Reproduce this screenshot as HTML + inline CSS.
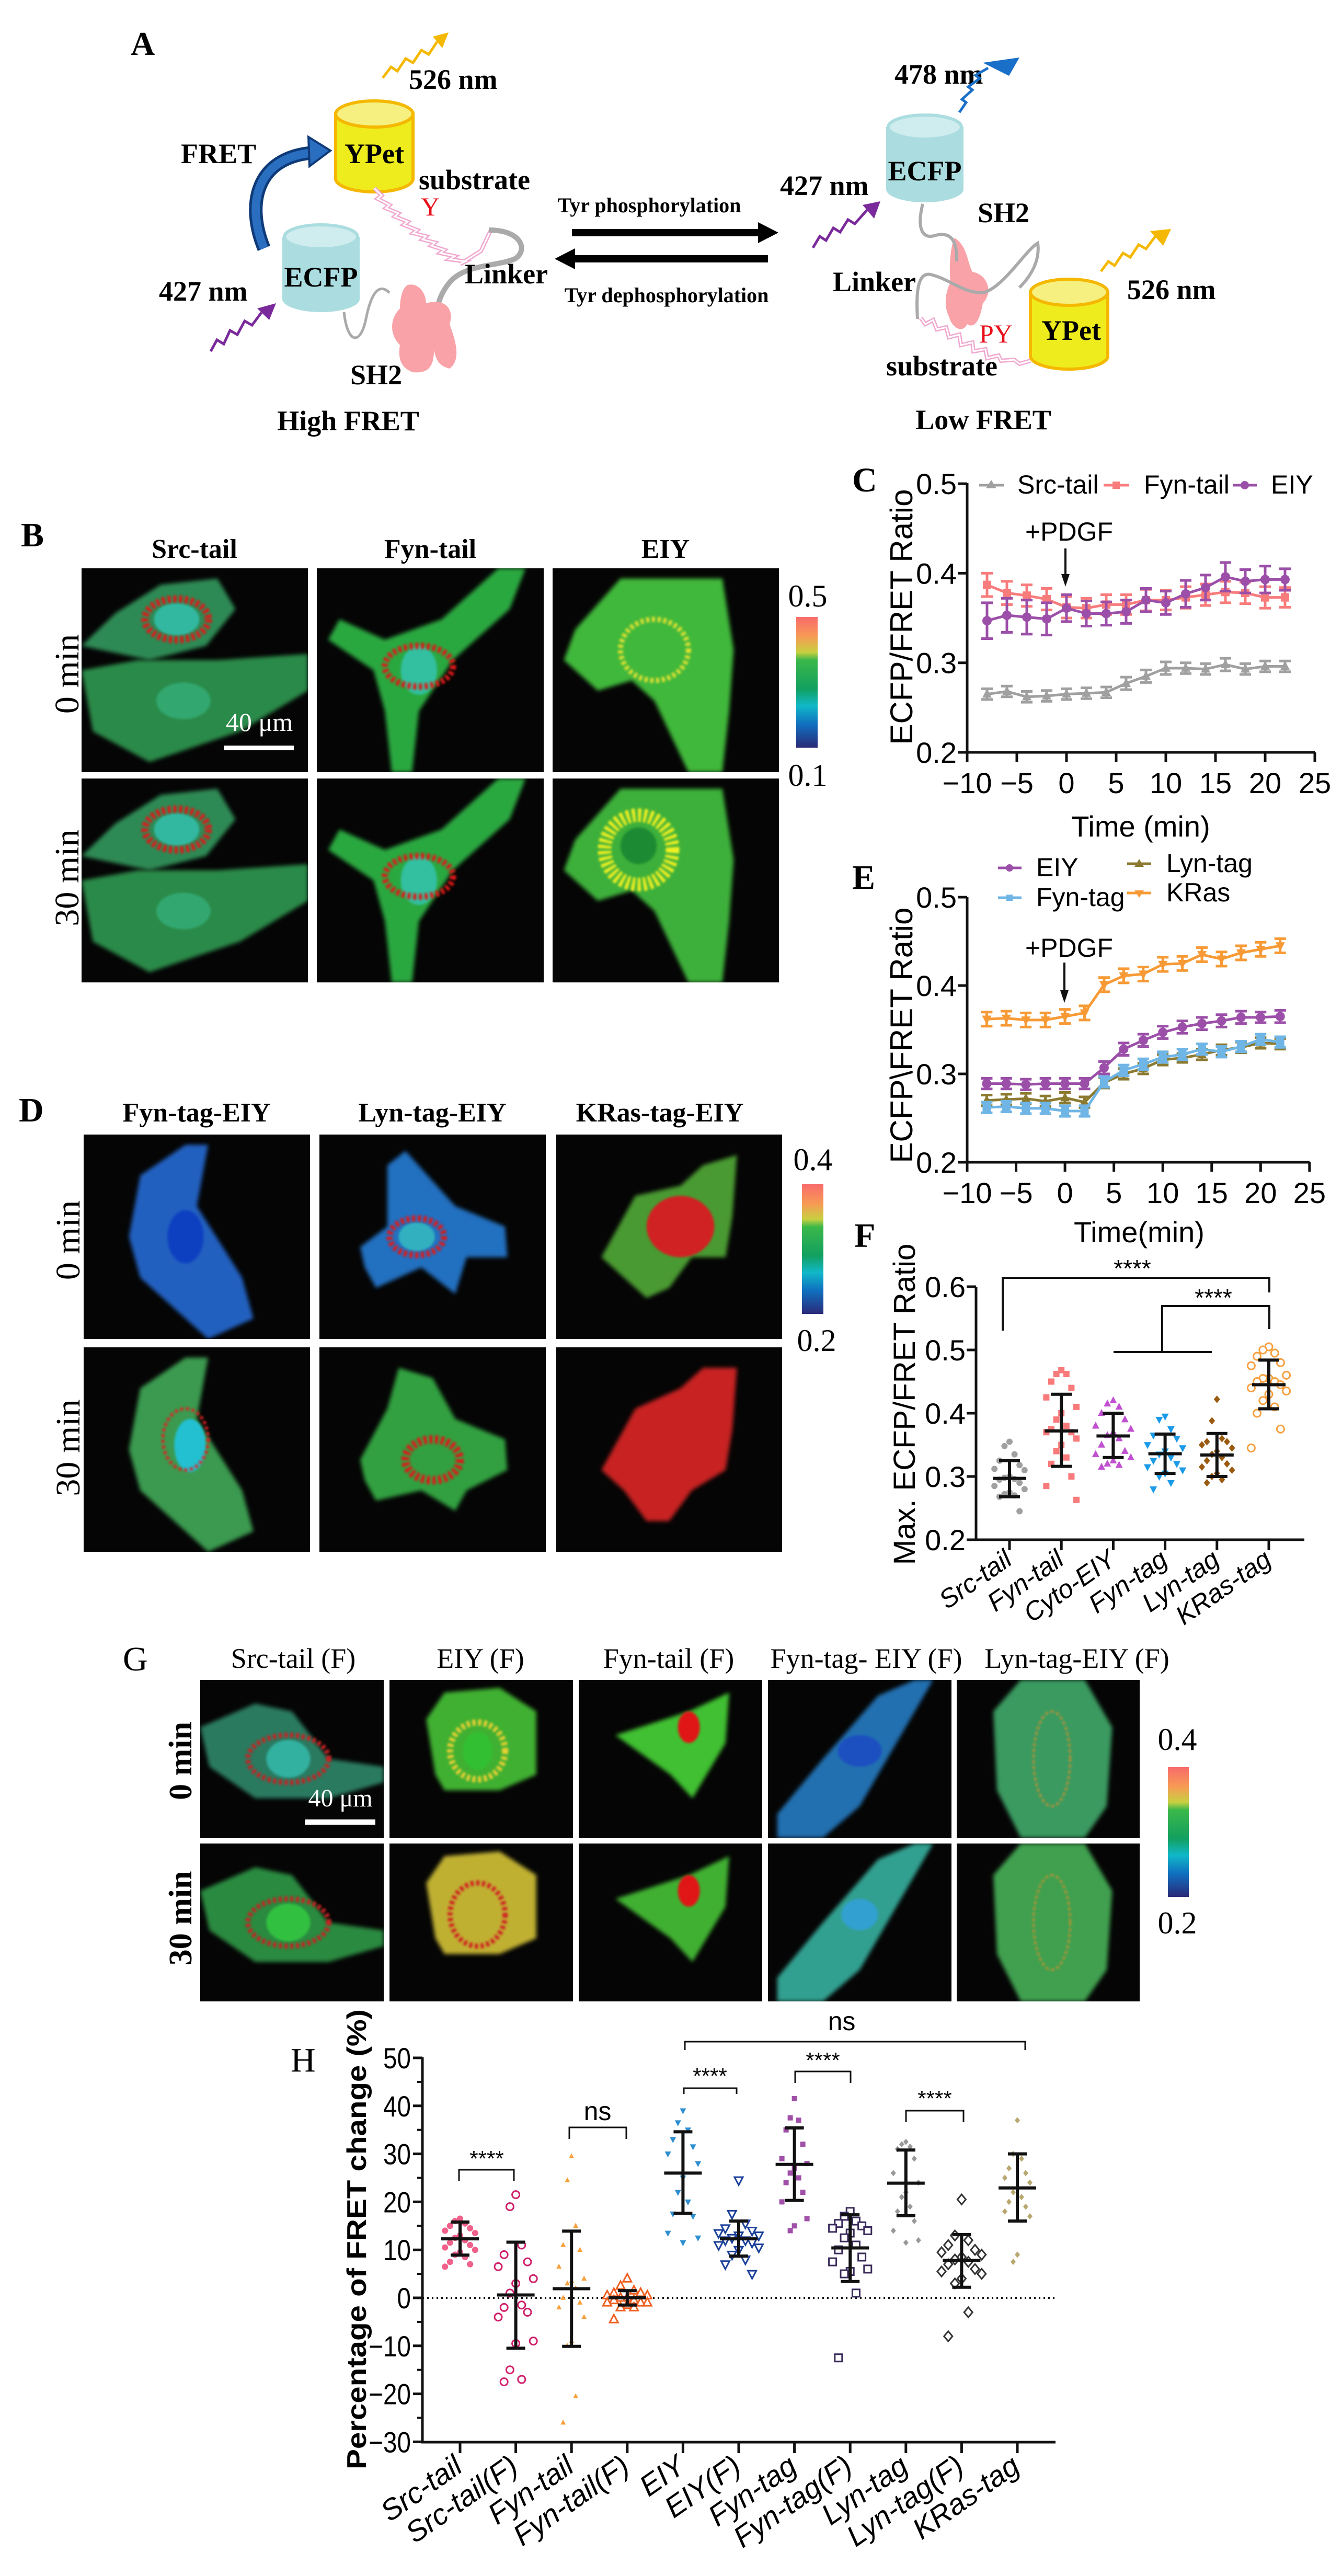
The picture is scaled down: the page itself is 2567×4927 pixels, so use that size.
<!DOCTYPE html>
<html><head><meta charset="utf-8"><style>
html,body{margin:0;padding:0;background:#fff}
svg{display:block}
.ser{font-family:"Liberation Serif",serif}
.san{font-family:"Liberation Sans",sans-serif}
</style></head><body>
<svg id="fig" xmlns="http://www.w3.org/2000/svg" width="2567" height="4927" viewBox="0 0 2567 4927">
<defs>
<filter id="blur" x="-20%" y="-20%" width="140%" height="140%"><feGaussianBlur stdDeviation="4"/></filter>
<filter id="blur2" x="-20%" y="-20%" width="140%" height="140%"><feGaussianBlur stdDeviation="2"/></filter>
<linearGradient id="cbar" x1="0" y1="0" x2="0" y2="1">
<stop offset="0" stop-color="#f86b6b"/><stop offset="0.15" stop-color="#f79a55"/><stop offset="0.27" stop-color="#c8d040"/><stop offset="0.33" stop-color="#3cb84a"/><stop offset="0.55" stop-color="#12a060"/><stop offset="0.68" stop-color="#10b8c8"/><stop offset="0.82" stop-color="#1070c0"/><stop offset="1" stop-color="#2a2a78"/>
</linearGradient>
</defs>
<rect width="2567" height="4927" fill="#fff"/>

<g id="panelA" class="ser" font-weight="bold" font-size="54">
<text x="250" y="105" font-size="64">A</text>
<g>
<rect x="642" y="218" width="148" height="124" fill="#eeec1c" stroke="#f5b800" stroke-width="6"/>
<ellipse cx="716" cy="342" rx="74" ry="25" fill="#eeec1c" stroke="#f5b800" stroke-width="6"/>
<rect x="645" y="218" width="142" height="124" fill="#eeec1c"/>
<ellipse cx="716" cy="218" rx="74" ry="25" fill="#f5f080" stroke="#f5b800" stroke-width="6"/>
<text x="716" y="312" text-anchor="middle" font-size="54">YPet</text>
</g>
<g>
<rect x="540" y="453" width="148" height="119" fill="#abdde0"/>
<ellipse cx="614" cy="572" rx="74" ry="25" fill="#abdde0"/>
<ellipse cx="614" cy="453" rx="70" ry="23" fill="#cfecee" stroke="#abdde0" stroke-width="6"/>
<text x="614" y="548" text-anchor="middle" font-size="54">ECFP</text>
</g>
<path d="M505,475 C470,390 490,300 600,292" fill="none" stroke="#0e3a78" stroke-width="26"/>
<path d="M505,475 C470,390 490,300 600,292" fill="none" stroke="#2a6ec0" stroke-width="16"/>
<polygon points="590,262 632,288 592,318" fill="#2a6ec0" stroke="#0e3a78" stroke-width="4"/>
<text x="346" y="312">FRET</text>
<text x="782" y="170">526 nm</text>
<polyline points="732,149 748,128 760,136 776,112 790,120 806,96 820,104 836,80" fill="none" stroke="#f5b800" stroke-width="5"/>
<polygon points="828,70 858,62 846,92" fill="#f5b800"/>
<text x="304" y="575">427 nm</text>
<polyline points="403,672 415,650 428,658 440,632 454,640 468,614 482,622 500,598" fill="none" stroke="#7a2a9a" stroke-width="5"/>
<polygon points="492,590 528,580 515,612" fill="#7a2a9a"/>
<polyline points="716,360 730,374 722,380 745,392 738,398 762,408 755,414 780,424 772,430 798,440 790,446 815,452 808,458 832,464 825,470 850,478 842,484 870,490 860,496 890,500 880,505 920,480 938,442" fill="none" stroke="#f0a8d0" stroke-width="8"/>
<polyline points="716,360 730,374 722,380 745,392 738,398 762,408 755,414 780,424 772,430 798,440 790,446 815,452 808,458 832,464 825,470 850,478 842,484 870,490 860,496 890,500 880,505 920,480 938,442" fill="none" stroke="#fff" stroke-width="3"/>
<text x="823" y="412" fill="#e8101a" text-anchor="middle" font-weight="normal" font-size="50">Y</text>
<text x="801" y="362" font-size="54">substrate</text>
<path d="M935,440 C1000,440 1010,480 985,495 C950,510 890,505 860,540 C840,565 840,580 835,590" fill="none" stroke="#aaa" stroke-width="10"/>
<path d="M658,597 C665,660 690,660 700,610 C710,560 725,540 745,560" fill="none" stroke="#aaa" stroke-width="5"/>
<path d="M780,545 C800,540 815,560 815,580 C850,570 870,590 860,620 C875,660 880,690 860,705 C840,700 835,690 830,670 C830,700 820,715 790,712 C770,705 760,690 765,660 C745,640 745,610 765,590 C765,570 770,550 780,545 Z" fill="#f9a3a8"/>
<text x="670" y="735">SH2</text>
<text x="889" y="542">Linker</text>
<text x="666" y="823" text-anchor="middle">High FRET</text>
<line x1="1094" y1="445" x2="1450" y2="445" stroke="#000" stroke-width="14"/>
<polygon points="1450,425 1489,445 1450,465" fill="#000"/>
<line x1="1100" y1="495" x2="1469" y2="495" stroke="#000" stroke-width="14"/>
<polygon points="1100,475 1061,495 1100,515" fill="#000"/>
<text x="1242" y="406" text-anchor="middle" font-size="40">Tyr phosphorylation</text>
<text x="1275" y="578" text-anchor="middle" font-size="40">Tyr dephosphorylation</text>
<text x="1711" y="160">478 nm</text>
<polyline points="1835,215 1848,196 1840,190 1860,172 1852,166 1874,150 1866,144 1890,130" fill="none" stroke="#1a70c8" stroke-width="5"/>
<polygon points="1880,120 1950,110 1930,145" fill="#1a70c8"/>
<g>
<rect x="1695" y="243" width="148" height="119" fill="#abdde0"/>
<ellipse cx="1769" cy="362" rx="74" ry="25" fill="#abdde0"/>
<ellipse cx="1769" cy="243" rx="70" ry="23" fill="#cfecee" stroke="#abdde0" stroke-width="6"/>
<text x="1769" y="345" text-anchor="middle" font-size="54">ECFP</text>
</g>
<text x="1492" y="373">427 nm</text>
<polyline points="1555,474 1568,452 1580,460 1594,436 1607,444 1622,420 1635,428 1660,400" fill="none" stroke="#7a2a9a" stroke-width="5"/>
<polygon points="1650,392 1684,385 1672,418" fill="#7a2a9a"/>
<text x="1870" y="425">SH2</text>
<path d="M1826,455 C1850,470 1850,500 1860,520 C1890,525 1900,560 1880,580 C1875,610 1865,630 1850,620 C1840,640 1820,625 1815,605 C1805,585 1808,560 1818,540 C1815,510 1818,470 1826,455 Z" fill="#f9a3a8"/>
<path d="M1765,390 C1755,430 1760,460 1790,450 C1830,440 1830,480 1830,500" fill="none" stroke="#aaa" stroke-width="6"/>
<path d="M1755,610 C1752,560 1755,520 1780,525 C1820,535 1840,560 1880,560 C1920,550 1960,480 1985,465 C1990,500 1970,530 1950,550" fill="none" stroke="#aaa" stroke-width="6"/>
<text x="1593" y="557">Linker</text>
<g>
<rect x="1971" y="559" width="148" height="122" fill="#eeec1c" stroke="#f5b800" stroke-width="6"/>
<ellipse cx="2045" cy="681" rx="74" ry="25" fill="#eeec1c" stroke="#f5b800" stroke-width="6"/>
<rect x="1974" y="559" width="142" height="122" fill="#eeec1c"/>
<ellipse cx="2045" cy="559" rx="74" ry="25" fill="#f5f080" stroke="#f5b800" stroke-width="6"/>
<text x="2049" y="650" text-anchor="middle" font-size="54">YPet</text>
</g>
<text x="2156" y="572">526 nm</text>
<polyline points="2106,519 2120,500 2132,508 2148,484 2162,492 2178,468 2192,476 2210,452" fill="none" stroke="#f5b800" stroke-width="5"/>
<polygon points="2200,442 2240,438 2225,470" fill="#f5b800"/>
<polyline points="1761,608 1770,620 1785,612 1792,630 1810,626 1815,645 1835,640 1838,660 1860,655 1862,672 1885,668 1888,685 1910,680 1915,690 1940,688 1950,696 1971,690" fill="none" stroke="#f0a8d0" stroke-width="8"/>
<polyline points="1761,608 1770,620 1785,612 1792,630 1810,626 1815,645 1835,640 1838,660 1860,655 1862,672 1885,668 1888,685 1910,680 1915,690 1940,688 1950,696 1971,690" fill="none" stroke="#fff" stroke-width="3"/>
<text x="1905" y="655" fill="#e8101a" text-anchor="middle" font-weight="normal" font-size="50">PY</text>
<text x="1695" y="718">substrate</text>
<text x="1881" y="821" text-anchor="middle">Low FRET</text>
</g>

<g id="imgs"></g>
<g id="charts"></g>
</svg>

<script>
const timeC = [-8,-6,-4,-2,0,2,4,6,8,10,12,14,16,18,20,22];
const cSrcTail = [0.265,0.268,0.262,0.263,0.265,0.266,0.267,0.277,0.285,0.294,0.294,0.293,0.298,0.293,0.296,0.296];
const cSrcTailErr = [0.006,0.006,0.006,0.006,0.006,0.006,0.006,0.007,0.007,0.007,0.006,0.006,0.007,0.006,0.006,0.006];
const cFynTail = [0.387,0.378,0.375,0.371,0.362,0.361,0.365,0.365,0.370,0.370,0.373,0.376,0.379,0.378,0.373,0.373];
const cFynTailErr = [0.013,0.013,0.012,0.012,0.012,0.011,0.011,0.011,0.012,0.011,0.012,0.012,0.012,0.012,0.012,0.011];
const cEIY = [0.347,0.353,0.351,0.349,0.361,0.355,0.355,0.357,0.370,0.367,0.377,0.384,0.396,0.391,0.393,0.393];
const cEIYErr = [0.020,0.019,0.019,0.018,0.015,0.014,0.013,0.013,0.013,0.013,0.015,0.014,0.016,0.013,0.015,0.012];
const cTicksX = [-10,-5,0,5,10,15,20,25];
const cTicksY = [0.2,0.3,0.4,0.5];
const timeE = [-8,-6,-4,-2,0,2,4,6,8,10,12,14,16,18,20,22];
const eEIY = [0.289,0.289,0.288,0.289,0.289,0.289,0.307,0.328,0.338,0.347,0.353,0.357,0.360,0.364,0.364,0.365];
const eEIYErr = [0.006,0.006,0.006,0.006,0.006,0.006,0.007,0.007,0.007,0.007,0.007,0.007,0.007,0.007,0.006,0.007];
const eFynTag = [0.262,0.263,0.261,0.261,0.258,0.258,0.291,0.304,0.311,0.319,0.322,0.328,0.325,0.331,0.339,0.336];
const eFynTagErr = [0.006,0.006,0.006,0.006,0.006,0.006,0.006,0.006,0.006,0.006,0.006,0.006,0.006,0.006,0.006,0.006];
const eLynTag = [0.270,0.271,0.272,0.269,0.273,0.268,0.290,0.300,0.306,0.316,0.318,0.322,0.327,0.330,0.335,0.334];
const eLynTagErr = [0.006,0.006,0.006,0.006,0.006,0.006,0.006,0.006,0.006,0.006,0.005,0.006,0.006,0.006,0.006,0.006];
const eKRas = [0.362,0.363,0.361,0.361,0.365,0.369,0.401,0.411,0.413,0.424,0.425,0.435,0.430,0.437,0.441,0.445];
const eKRasErr = [0.008,0.008,0.008,0.008,0.008,0.008,0.008,0.008,0.008,0.008,0.008,0.008,0.008,0.008,0.008,0.008];
const eTicksX = [-10,-5,0,5,10,15,20,25];
const eTicksY = [0.2,0.3,0.4,0.5];
const fCategories = ['Src-tail','Fyn-tail','Cyto-EIY','Fyn-tag','Lyn-tag','KRas-tag'];
const fMean = [0.297,0.372,0.364,0.336,0.334,0.445];
const fSdHigh = [0.325,0.430,0.400,0.367,0.368,0.484];
const fSdLow = [0.268,0.316,0.330,0.305,0.300,0.407];
const fSrcTail = [0.355,0.348,0.335,0.325,0.318,0.312,0.310,0.300,0.298,0.296,0.295,0.290,0.285,0.280,0.275,0.272,0.270,0.268,0.245];
const fFynTail = [0.468,0.462,0.462,0.450,0.440,0.425,0.410,0.400,0.390,0.380,0.375,0.370,0.370,0.360,0.350,0.340,0.330,0.320,0.300,0.285,0.263];
const fCytoEIY = [0.420,0.415,0.410,0.400,0.390,0.380,0.375,0.370,0.365,0.360,0.350,0.340,0.335,0.330,0.325,0.320,0.318,0.315];
const fFynTag = [0.395,0.390,0.375,0.365,0.360,0.350,0.345,0.340,0.335,0.330,0.325,0.320,0.315,0.310,0.305,0.300,0.290,0.280];
const fLynTag = [0.422,0.388,0.360,0.355,0.355,0.350,0.345,0.340,0.335,0.330,0.325,0.320,0.315,0.310,0.305,0.300,0.295,0.290];
const fKRasTag = [0.505,0.500,0.495,0.490,0.480,0.475,0.460,0.455,0.455,0.450,0.450,0.445,0.440,0.435,0.430,0.420,0.410,0.400,0.375,0.345];
const fTicksY = [0.2,0.3,0.4,0.5,0.6];
const hCategories = ['Src-tail','Src-tail(F)','Fyn-tail','Fyn-tail(F)','EIY','EIY(F)','Fyn-tag','Fyn-tag(F)','Lyn-tag','Lyn-tag(F)','KRas-tag'];
const hMean = [12.3,0.6,1.9,0,26,12.3,27.8,10.4,23.9,7.8,22.9];
const hSdHigh = [15.8,11.6,13.9,1.5,34.6,16.0,35.4,17.3,30.8,13.2,30.0];
const hSdLow = [8.9,-10.5,-10.1,-1.5,17.6,8.7,20.3,3.4,17.1,2.2,16.0];
const hSrcTail = [16.5,16,15.5,15,14.5,14,13.5,13,12.5,12,11.5,11,10.5,10,9.5,9,8.5,7.5,7,6.5];
const hSrcTailF = [21.5,19,11,9,7.5,6.5,4,3,1,-1.5,-2,-3,-4,-9,-9.5,-15,-17,-17.5];
const hFynTail = [29.5,24.5,15,11,10,6.5,4,3.5,3,2,0,-1,-2,-4,-9,-10,-20.5,-26];
const hFynTailF = [4,2.5,1.5,1,1,0.5,0.5,0,0,-0.5,-0.5,-1,-1,-1,-1.5,-2,-2,-4.5];
const hEIY = [39,36.5,35,33,31.5,30,28,25,22,20,17.5,17,13.5,12.5,11.5];
const hEIYF = [24.5,17.5,15.5,14.5,14,13.5,13,13,12.5,12,12,11.5,11,10.5,10,9,8,7,5];
const hFynTag = [41.5,37.5,37,35,32,29,28,27,26,25,24,22,20,16.5,15,14];
const hFynTagF = [18,17,16,15.5,15,14.5,14,13.5,12.5,11,10,8.5,7.5,6,5.5,5,1,-12.5];
const hLynTag = [32.5,32,31.5,31,29,26,24,22,21,19,18,16,14,12,11.5];
const hLynTagF = [20.5,13,12,11,10,9.5,9,8.5,8,7.5,7,6,5.5,5,4,3,-3,-8];
const hKRasTag = [37,30,29,27,26,25,24,23,22,21,20,19,18,17,9,7.5];
const hTicksY = [-30,-20,-10,0,10,20,30,40,50];

const NS='http://www.w3.org/2000/svg';
const charts=document.getElementById('charts');
const imgs=document.getElementById('imgs');
function mk(tag,attrs,parent){const e=document.createElementNS(NS,tag);for(const k in attrs)e.setAttribute(k,attrs[k]);parent.appendChild(e);return e;}
function txt(x,y,s,attrs,parent){const t=mk('text',Object.assign({x:x,y:y},attrs),parent);t.textContent=s;return t;}

function marker(shape,x,y,s,color,open,parent,name){
  let e;
  const fill=open?'#fff':color, sw=open?3:0;
  if(shape==='circle'){e=mk('circle',{cx:x,cy:y,r:s,fill:fill,stroke:color,'stroke-width':sw},parent);}
  else if(shape==='square'){e=mk('rect',{x:x-s,y:y-s,width:2*s,height:2*s,fill:fill,stroke:color,'stroke-width':sw},parent);}
  else if(shape==='tri'){e=mk('polygon',{points:(x)+','+(y-s*1.15)+' '+(x+s)+','+(y+s*0.75)+' '+(x-s)+','+(y+s*0.75),fill:fill,stroke:color,'stroke-width':sw},parent);}
  else if(shape==='dtri'){e=mk('polygon',{points:(x)+','+(y+s*1.15)+' '+(x+s)+','+(y-s*0.75)+' '+(x-s)+','+(y-s*0.75),fill:fill,stroke:color,'stroke-width':sw},parent);}
  else {e=mk('polygon',{points:x+','+(y-s*1.2)+' '+(x+s)+','+y+' '+x+','+(y+s*1.2)+' '+(x-s)+','+y,fill:fill,stroke:color,'stroke-width':sw},parent);}
  
  
  return e;
}

function series(g,xs,ys,errs,color,shape,xf,yf,name){
  const pl=mk('polyline',{points:xs.map((t,i)=>xf(t)+','+yf(ys[i])).join(' '),fill:'none',stroke:color,'stroke-width':5},g);
  
  
  xs.forEach((t,i)=>{
    const x=xf(t), yt=yf(ys[i]+errs[i]), yb=yf(ys[i]-errs[i]);
    const eb=mk('path',{d:'M'+x+','+yt+' V'+yb+' M'+(x-11)+','+yt+' H'+(x+11)+' M'+(x-11)+','+yb+' H'+(x+11),stroke:color,'stroke-width':5,fill:'none'},g);
    
    
    marker(shape,x,yf(ys[i]),shape==='square'?8:9,color,false,g,name+'-point');
  });
}
function lineAxes(g,x0,x1,y0,y1,xf,yf,ticksX,ticksY,fmt){
  const ax=mk('path',{d:'M'+x0+','+y1+' V'+y0+' H'+x1,stroke:'#111','stroke-width':5,fill:'none'},g);
  
  
  ticksX.forEach(t=>{
    const tk=mk('line',{x1:xf(t),x2:xf(t),y1:y0,y2:y0+18,stroke:'#111','stroke-width':5},g);
    
    
    const lb=txt(xf(t),y0+78,(t<0?'\u2212'+(-t):''+t),{'text-anchor':'middle','font-size':56},g);
    
    
  });
  ticksY.forEach(v=>{
    const tk=mk('line',{x1:x0-18,x2:x0,y1:yf(v),y2:yf(v),stroke:'#111','stroke-width':5},g);
    
    
    const lb=txt(x0-20,yf(v)+20,fmt(v),{'text-anchor':'end','font-size':56},g);
    
    
  });
}

const xC=t=>1850+(t+10)*19, yC=v=>1439-(v-0.2)*1713;
const gC=mk('g',{class:'san'},charts);


lineAxes(gC,1850,2515,1439,924,xC,yC,cTicksX,cTicksY,v=>v.toFixed(1));
series(gC,timeC,cSrcTail,cSrcTailErr,'#a0a0a0','tri',xC,yC,'src-tail');
series(gC,timeC,cFynTail,cFynTailErr,'#f87c7c','square',xC,yC,'fyn-tail');
series(gC,timeC,cEIY,cEIYErr,'#9b4fa8','circle',xC,yC,'eiy');

const xE=t=>1850+(t+10)*18.71, yE=v=>2223-(v-0.2)*1690;
const gE=mk('g',{class:'san'},charts);


lineAxes(gE,1850,2505,2223,1716,xE,yE,eTicksX,eTicksY,v=>v.toFixed(1));
series(gE,timeE,eKRas,eKRasErr,'#f79a35','dtri',xE,yE,'kras');
series(gE,timeE,eEIY,eEIYErr,'#9b4fa8','circle',xE,yE,'eiy');
series(gE,timeE,eLynTag,eLynTagErr,'#8b7a30','tri',xE,yE,'lyn-tag');
series(gE,timeE,eFynTag,eFynTagErr,'#6fb5e5','square',xE,yE,'fyn-tag');

function scatter(g,i,vals,shape,color,open,xf,yf,mean,hi,lo,size,name,meanW,capW){
  vals.forEach((v,k)=>{
    const off=[0,-1,1,-2,2,-3,3][k%7]*(size*1.6);
    marker(shape,xf(i)+off,yf(v),size,color,open,g,name+'-point');
  });
  const x=xf(i);
  const st=mk('path',{d:'M'+(x-meanW)+','+yf(mean)+' H'+(x+meanW)+' M'+x+','+yf(hi)+' V'+yf(lo)+' M'+(x-capW)+','+yf(hi)+' H'+(x+capW)+' M'+(x-capW)+','+yf(lo)+' H'+(x+capW),stroke:'#111','stroke-width':6,fill:'none'},g);
  
  
}

const xF=i=>1931+i*99.2, yF=v=>2945-(v-0.2)*1210;
const gF=mk('g',{class:'san'},charts);


const fAx=mk('path',{d:'M1867,2461 V2945 H2495',stroke:'#111','stroke-width':5,fill:'none'},gF);


fTicksY.forEach(v=>{
  const tk=mk('line',{x1:1849,x2:1867,y1:yF(v),y2:yF(v),stroke:'#111','stroke-width':5},gF);
  
  
  const lb=txt(1847,yF(v)+20,v.toFixed(1),{'text-anchor':'end','font-size':56},gF);
  
  
});
fCategories.forEach((c,i)=>{
  const tk=mk('line',{x1:xF(i),x2:xF(i),y1:2945,y2:2965,stroke:'#111','stroke-width':5},gF);
  
  
  const lb=txt(xF(i)+8,2990,c,{'text-anchor':'end','font-size':50,'font-style':'italic',transform:'rotate(-35 '+(xF(i)+8)+' 2990)'},gF);
  
  
});
scatter(gF,0,fSrcTail,'circle','#a0a0a0',false,xF,yF,fMean[0],fSdHigh[0],fSdLow[0],6,'src-tail',32,20);
scatter(gF,1,fFynTail,'square','#f87a7a',false,xF,yF,fMean[1],fSdHigh[1],fSdLow[1],6,'fyn-tail',32,20);
scatter(gF,2,fCytoEIY,'tri','#c050d0',false,xF,yF,fMean[2],fSdHigh[2],fSdLow[2],7,'cyto-eiy',32,20);
scatter(gF,3,fFynTag,'dtri','#1a9ae8',false,xF,yF,fMean[3],fSdHigh[3],fSdLow[3],7,'fyn-tag',32,20);
scatter(gF,4,fLynTag,'diamond','#9a5a10',false,xF,yF,fMean[4],fSdHigh[4],fSdLow[4],6,'lyn-tag',32,20);
scatter(gF,5,fKRasTag,'circle','#f7a040',true,xF,yF,fMean[5],fSdHigh[5],fSdLow[5],7,'kras-tag',32,20);

const xH=i=>880+i*106.6, yH=v=>4395-v*9.18;
const gH=mk('g',{class:'san'},charts);


const hAx=mk('path',{d:'M808,3935 V4671 H2019',stroke:'#111','stroke-width':5,fill:'none'},gH);


const zl=mk('line',{x1:808,x2:2019,y1:yH(0),y2:yH(0),stroke:'#111','stroke-width':4,'stroke-dasharray':'3 6'},gH);


hTicksY.forEach(v=>{
  const tk=mk('line',{x1:790,x2:808,y1:yH(v),y2:yH(v),stroke:'#111','stroke-width':5},gH);
  
  
  if(v<50){
    const mt=mk('line',{x1:798,x2:808,y1:yH(v+5),y2:yH(v+5),stroke:'#111','stroke-width':4},gH);
    
    
  }
  const lb=txt(786,yH(v)+20,(v<0?'\u2212'+(-v):''+v),{'text-anchor':'end','font-size':56,transform:'translate('+(786*0.15)+',0) scale(0.85,1)'},gH);
  
  
});
hCategories.forEach((c,i)=>{
  const tk=mk('line',{x1:xH(i),x2:xH(i),y1:4671,y2:4692,stroke:'#111','stroke-width':5},gH);
  
  
  const lb=txt(xH(i)+8,4725,c,{'text-anchor':'end','font-size':56,'font-style':'italic',transform:'rotate(-35 '+(xH(i)+8)+' 4725)'},gH);
  
  
});
scatter(gH,0,hSrcTail,'circle','#f0608a',false,xH,yH,hMean[0],hSdHigh[0],hSdLow[0],6,'src-tail',36,18);
scatter(gH,1,hSrcTailF,'circle','#d0206a',true,xH,yH,hMean[1],hSdHigh[1],hSdLow[1],7,'src-tail-f',36,18);
scatter(gH,2,hFynTail,'tri','#f7a03a',false,xH,yH,hMean[2],hSdHigh[2],hSdLow[2],5,'fyn-tail',36,18);
scatter(gH,3,hFynTailF,'tri','#f06020',true,xH,yH,hMean[3],hSdHigh[3],hSdLow[3],8,'fyn-tail-f',36,18);
scatter(gH,4,hEIY,'dtri','#2e8fd0',false,xH,yH,hMean[4],hSdHigh[4],hSdLow[4],6,'eiy',36,18);
scatter(gH,5,hEIYF,'dtri','#1a3f9a',true,xH,yH,hMean[5],hSdHigh[5],hSdLow[5],8,'eiy-f',36,18);
scatter(gH,6,hFynTag,'square','#a050a8',false,xH,yH,hMean[6],hSdHigh[6],hSdLow[6],5,'fyn-tag',36,18);
scatter(gH,7,hFynTagF,'square','#3a2a5a',true,xH,yH,hMean[7],hSdHigh[7],hSdLow[7],7,'fyn-tag-f',36,18);
scatter(gH,8,hLynTag,'diamond','#999999',false,xH,yH,hMean[8],hSdHigh[8],hSdLow[8],5,'lyn-tag',36,18);
scatter(gH,9,hLynTagF,'diamond','#333333',true,xH,yH,hMean[9],hSdHigh[9],hSdLow[9],8,'lyn-tag-f',36,18);
scatter(gH,10,hKRasTag,'diamond','#b8a870',false,xH,yH,hMean[10],hSdHigh[10],hSdLow[10],5,'kras-tag',36,18);

function panel(x,y,w,h,spec,name){
  const g=mk('g',{},imgs);
  
  
  mk('rect',{x:x,y:y,width:w,height:h,fill:'#050505'},g);
  const cp='cp'+name;
  const cl=mk('clipPath',{id:cp},g); mk('rect',{x:x,y:y,width:w,height:h},cl);
  const inner=mk('g',{'clip-path':'url(#'+cp+')'},g);
  spec.polys.forEach(p=>{
    mk('polygon',{points:p.pts.map(q=>(x+q[0]*w)+','+(y+q[1]*h)).join(' '),fill:p.fill,filter:'url(#blur)'},inner);
  });
  (spec.ells||[]).forEach(e=>{
    mk('ellipse',{cx:x+e[0]*w,cy:y+e[1]*h,rx:e[2]*w,ry:e[3]*h,fill:e[5]?'none':e[4],stroke:e[5]?e[4]:'none','stroke-width':e[5]||0,'stroke-dasharray':e[5]?'6 5':'none',filter:'url(#blur2)'},inner);
  });
}
const S={
 src:{polys:[{pts:[[0,.38],[.15,.22],[.35,.08],[.6,.05],[.68,.2],[.55,.38],[.3,.45]],fill:'#2e8a55'},{pts:[[0,.5],[.25,.45],[.6,.45],[1,.42],[1,.6],[.7,.8],[.3,.95],[.05,.8]],fill:'#2a8a48'}],ells:[[.42,.25,.1,.08,'#30b8a0'],[.42,.25,.14,.1,'#e01818',14],[.45,.65,.12,.09,'#30a870']]},
 fyn:{polys:[{pts:[[.1,.25],[.3,.35],[.55,.25],[.8,0],[.92,0],[.85,.2],[.6,.45],[.45,.7],[.42,1],[.33,1],[.3,.7],[.25,.5],[.05,.35]],fill:'#2aa840'}],ells:[[.45,.5,.08,.12,'#30c0a0'],[.45,.48,.15,.1,'#e01818',12]]},
 eiy0:{polys:[{pts:[[.1,.3],[.3,.05],[.6,.05],[.75,.05],[.8,.4],[.78,.7],[.75,1],[.6,1],[.45,.65],[.35,.55],[.2,.6],[.05,.45]],fill:'#3fb83a'}],ells:[[.45,.4,.15,.15,'#e0e030',10]]},
 eiy30:{polys:[{pts:[[.1,.3],[.3,.05],[.6,.05],[.75,.05],[.8,.4],[.78,.7],[.75,1],[.6,1],[.45,.65],[.35,.55],[.2,.6],[.05,.45]],fill:'#3db03a'}],ells:[[.38,.35,.15,.17,'#f0f020',26],[.38,.33,.08,.09,'#1a8a30']]},
 fynTag0:{polys:[{pts:[[.25,.2],[.45,.05],[.55,.05],[.5,.35],[.7,.7],[.75,.9],[.65,.95],[.55,1],[.4,.85],[.25,.7],[.2,.5]],fill:'#2060c0'}],ells:[[.45,.5,.08,.13,'#1040c0']]},
 fynTag30:{polys:[{pts:[[.25,.2],[.45,.05],[.55,.05],[.5,.35],[.7,.7],[.75,.9],[.65,.95],[.55,1],[.4,.85],[.25,.7],[.2,.5]],fill:'#3a9a50'}],ells:[[.47,.48,.07,.13,'#20c0d0'],[.45,.45,.1,.15,'#e02020',6]]},
 lyn0:{polys:[{pts:[[.18,.55],[.3,.45],[.3,.15],[.38,.08],[.6,.35],[.82,.45],[.83,.6],[.65,.6],[.6,.78],[.45,.65],[.25,.75],[.2,.65]],fill:'#2070c0'}],ells:[[.43,.5,.08,.07,'#30b0c0'],[.43,.5,.12,.09,'#e01818',12]]},
 lyn30:{polys:[{pts:[[.18,.55],[.3,.3],[.35,.1],[.5,.15],[.6,.35],[.82,.45],[.83,.6],[.65,.7],[.6,.8],[.45,.7],[.25,.75],[.2,.65]],fill:'#30a040'}],ells:[[.5,.55,.12,.1,'#e01818',16]]},
 kras0:{polys:[{pts:[[.2,.6],[.35,.3],[.55,.25],[.65,.15],[.8,.1],[.78,.4],[.75,.6],[.6,.6],[.5,.75],[.4,.8],[.3,.7]],fill:'#4a9a30'}],ells:[[.55,.45,.15,.15,'#d02020']]},
 kras30:{polys:[{pts:[[.2,.6],[.35,.3],[.55,.2],[.65,.1],[.8,.1],[.78,.4],[.75,.6],[.6,.7],[.5,.85],[.4,.85],[.3,.7]],fill:'#c82020'}],ells:[]},
 gsrc0:{polys:[{pts:[[0,.3],[.3,.15],[.5,.2],[.7,.5],[1,.55],[1,.65],[.7,.75],[.3,.75],[.05,.55]],fill:'#2a7a60'}],ells:[[.48,.5,.12,.12,'#30b0a0'],[.48,.5,.22,.15,'#c82020',10]]},
 gsrc30:{polys:[{pts:[[0,.3],[.3,.15],[.5,.2],[.7,.5],[1,.55],[1,.65],[.7,.75],[.3,.75],[.05,.55]],fill:'#2a8a40'}],ells:[[.48,.5,.12,.12,'#30c040'],[.48,.5,.22,.15,'#c82020',10]]},
 geiy0:{polys:[{pts:[[.2,.25],[.3,.08],[.6,.05],[.8,.2],[.8,.6],[.6,.7],[.3,.7],[.25,.6]],fill:'#40b030'}],ells:[[.48,.45,.15,.18,'#e8d030',12],[.48,.45,.08,.12,'#30c030']]},
 geiy30:{polys:[{pts:[[.2,.25],[.3,.08],[.6,.05],[.8,.2],[.8,.6],[.6,.7],[.3,.7],[.25,.6]],fill:'#c0b030'}],ells:[[.48,.45,.15,.2,'#d02020',10]]},
 gfyn0:{polys:[{pts:[[.2,.35],[.6,.2],[.82,.08],[.8,.4],[.62,.75],[.5,.6]],fill:'#40c030'}],ells:[[.6,.3,.06,.1,'#e01818']]},
 gfyn30:{polys:[{pts:[[.2,.35],[.6,.2],[.82,.08],[.8,.4],[.62,.75],[.5,.6]],fill:'#40b030'}],ells:[[.6,.3,.06,.1,'#e01818']]},
 gfyntag0:{polys:[{pts:[[.05,.85],[.3,.5],[.6,.1],[.8,0],[.9,0],[.7,.4],[.5,.8],[.3,1],[.05,1]],fill:'#2070b0'}],ells:[[.5,.45,.12,.1,'#1a50c0']]},
 gfyntag30:{polys:[{pts:[[.05,.85],[.3,.5],[.6,.1],[.8,0],[.9,0],[.7,.4],[.5,.8],[.3,1],[.05,1]],fill:'#30a090'}],ells:[[.5,.45,.1,.1,'#30a0d0']]},
 glyn0:{polys:[{pts:[[.2,.2],[.35,0],[.7,0],[.85,.3],[.82,.8],[.7,1],[.35,1],[.22,.7]],fill:'#3a9a60'}],ells:[[.52,.5,.1,.3,'#c89030',4]]},
 glyn30:{polys:[{pts:[[.2,.2],[.35,0],[.7,0],[.85,.3],[.82,.8],[.7,1],[.35,1],[.22,.7]],fill:'#40a050'}],ells:[[.52,.5,.1,.3,'#c89030',4]]}
};
const bCols=[[156,433],[606,434],[1057,433]], bRows=[[1087,390],[1489,390]];
const bSpec=[[S.src,S.fyn,S.eiy0],[S.src,S.fyn,S.eiy30]];
const bNames=['src-tail','fyn-tail','eiy'];
bRows.forEach((r,ri)=>bCols.forEach((c,ci)=>panel(c[0],r[0],c[1],r[1],bSpec[ri][ci],'panel-b-'+bNames[ci]+'-'+(ri?'30min':'0min'))));
const dCols=[[160,433],[611,433],[1064,432]], dRows=[[2170,391],[2577,391]];
const dSpec=[[S.fynTag0,S.lyn0,S.kras0],[S.fynTag30,S.lyn30,S.kras30]];
const dNames=['fyn-tag-eiy','lyn-tag-eiy','kras-tag-eiy'];
dRows.forEach((r,ri)=>dCols.forEach((c,ci)=>panel(c[0],r[0],c[1],r[1],dSpec[ri][ci],'panel-d-'+dNames[ci]+'-'+(ri?'30min':'0min'))));
const gCols=[[383,351],[745,351],[1107,351],[1469,351],[1830,350]], gRows=[[3213,302],[3526,302]];
const gSpec=[[S.gsrc0,S.geiy0,S.gfyn0,S.gfyntag0,S.glyn0],[S.gsrc30,S.geiy30,S.gfyn30,S.gfyntag30,S.glyn30]];
const gNames=['src-tail-f','eiy-f','fyn-tail-f','fyn-tag-eiy-f','lyn-tag-eiy-f'];
gRows.forEach((r,ri)=>gCols.forEach((c,ci)=>panel(c[0],r[0],c[1],r[1],gSpec[ri][ci],'panel-g-'+gNames[ci]+'-'+(ri?'30min':'0min'))));
</script>

<svg style="position:absolute;left:0;top:0" width="2567" height="4927" viewBox="0 0 2567 4927">
<g class="ser">
<text x="40" y="1045" font-size="66" font-weight="bold">B</text>
<text x="372" y="1067" text-anchor="middle" font-size="52" font-weight="bold">Src-tail</text>
<text x="823" y="1067" text-anchor="middle" font-size="52" font-weight="bold">Fyn-tail</text>
<text x="1273" y="1067" text-anchor="middle" font-size="52" font-weight="bold">EIY</text>
<text transform="translate(150,1289) rotate(-90)" text-anchor="middle" font-size="66">0 min</text>
<text transform="translate(150,1679) rotate(-90)" text-anchor="middle" font-size="66">30 min</text>
<text x="496" y="1398" text-anchor="middle" font-size="50" fill="#fff">40 μm</text>
<rect x="428" y="1426" width="134" height="9" fill="#fff"/>
<rect x="1523" y="1180" width="41" height="250" fill="url(#cbar)"/>
<text x="1545" y="1160" text-anchor="middle" font-size="60">0.5</text>
<text x="1545" y="1503" text-anchor="middle" font-size="60">0.1</text>
</g>
<g class="ser">
<text x="36" y="2145" font-size="66" font-weight="bold">D</text>
<text x="376" y="2145" text-anchor="middle" font-size="52" font-weight="bold">Fyn-tag-EIY</text>
<text x="827" y="2145" text-anchor="middle" font-size="52" font-weight="bold">Lyn-tag-EIY</text>
<text x="1262" y="2145" text-anchor="middle" font-size="52" font-weight="bold">KRas-tag-EIY</text>
<text transform="translate(152,2372) rotate(-90)" text-anchor="middle" font-size="66">0 min</text>
<text transform="translate(152,2769) rotate(-90)" text-anchor="middle" font-size="66">30 min</text>
<rect x="1534" y="2265" width="41" height="248" fill="url(#cbar)"/>
<text x="1555" y="2238" text-anchor="middle" font-size="60">0.4</text>
<text x="1562" y="2584" text-anchor="middle" font-size="60">0.2</text>
</g>
<g class="ser">
<text x="235" y="3195" font-size="66">G</text>
<text x="561" y="3190" text-anchor="middle" font-size="54">Src-tail (F)</text>
<text x="919" y="3190" text-anchor="middle" font-size="54">EIY (F)</text>
<text x="1279" y="3190" text-anchor="middle" font-size="54">Fyn-tail (F)</text>
<text x="1657" y="3190" text-anchor="middle" font-size="54">Fyn-tag- EIY (F)</text>
<text x="2060" y="3190" text-anchor="middle" font-size="54">Lyn-tag-EIY (F)</text>
<text transform="translate(366,3368) rotate(-90)" text-anchor="middle" font-size="62" font-weight="bold">0 min</text>
<text transform="translate(366,3669) rotate(-90)" text-anchor="middle" font-size="62" font-weight="bold">30 min</text>
<text x="651" y="3455" text-anchor="middle" font-size="48" fill="#fff">40 μm</text>
<rect x="583" y="3480" width="135" height="10" fill="#fff"/>
<rect x="2234" y="3380" width="40" height="248" fill="url(#cbar)"/>
<text x="2252" y="3347" text-anchor="middle" font-size="60">0.4</text>
<text x="2252" y="3698" text-anchor="middle" font-size="60">0.2</text>
</g>
<g class="san">
<text x="1630" y="940" font-size="66" font-weight="bold" font-family="Liberation Serif, serif">C</text>
<text transform="translate(1745,1180) rotate(-90)" text-anchor="middle" font-size="60">ECFP/FRET Ratio</text>
<text x="2182" y="1600" text-anchor="middle" font-size="56">Time (min)</text>
<line x1="1873" y1="928" x2="1920" y2="928" stroke="#a0a0a0" stroke-width="5"/>
<polygon points="1896,918 1906,934 1886,934" fill="#a0a0a0"/>
<text x="1946" y="944" font-size="50">Src-tail</text>
<line x1="2111" y1="928" x2="2160" y2="928" stroke="#f87c7c" stroke-width="5"/>
<rect x="2128" y="921" width="14" height="14" fill="#f87c7c"/>
<text x="2188" y="944" font-size="50">Fyn-tail</text>
<line x1="2358" y1="928" x2="2404" y2="928" stroke="#9b4fa8" stroke-width="5"/>
<circle cx="2381" cy="928" r="8" fill="#9b4fa8"/>
<text x="2431" y="944" font-size="50">EIY</text>
<text x="2045" y="1034" text-anchor="middle" font-size="50">+PDGF</text>
<line x1="2038" y1="1049" x2="2038" y2="1105" stroke="#111" stroke-width="4"/>
<polygon points="2030,1098 2046,1098 2038,1122" fill="#111"/>
</g>
<g class="san">
<text x="1630" y="1700" font-size="66" font-weight="bold" font-family="Liberation Serif, serif">E</text>
<text transform="translate(1745,1980) rotate(-90)" text-anchor="middle" font-size="60">ECFP\FRET Ratio</text>
<text x="2179" y="2376" text-anchor="middle" font-size="56">Time(min)</text>
<line x1="1909" y1="1660" x2="1954" y2="1660" stroke="#9b4fa8" stroke-width="5"/>
<circle cx="1931" cy="1660" r="7" fill="#9b4fa8"/>
<text x="1982" y="1676" font-size="50">EIY</text>
<line x1="2156" y1="1652" x2="2202" y2="1652" stroke="#8b7a30" stroke-width="5"/>
<polygon points="2179,1643 2188,1658 2170,1658" fill="#8b7a30"/>
<text x="2231" y="1668" font-size="50">Lyn-tag</text>
<line x1="1909" y1="1717" x2="1954" y2="1717" stroke="#6fb5e5" stroke-width="5"/>
<rect x="1925" y="1711" width="12" height="12" fill="#6fb5e5"/>
<text x="1982" y="1733" font-size="50">Fyn-tag</text>
<line x1="2156" y1="1708" x2="2202" y2="1708" stroke="#f79a35" stroke-width="5"/>
<polygon points="2170,1703 2188,1703 2179,1717" fill="#f79a35"/>
<text x="2231" y="1724" font-size="50">KRas</text>
<text x="2045" y="1830" text-anchor="middle" font-size="50">+PDGF</text>
<line x1="2036" y1="1841" x2="2036" y2="1900" stroke="#111" stroke-width="4"/>
<polygon points="2028,1894 2044,1894 2036,1918" fill="#111"/>
</g>
<g class="san">
<text x="1634" y="2385" font-size="66" font-weight="bold" font-family="Liberation Serif, serif">F</text>
<text transform="translate(1750,2686) rotate(-90)" text-anchor="middle" font-size="58">Max. ECFP/FRET Ratio</text>
<path d="M1918,2545 V2444 H2428 V2472" fill="none" stroke="#111" stroke-width="4"/>
<text x="2166" y="2442" text-anchor="middle" font-size="46">****</text>
<path d="M2223,2586 V2498 H2428 V2542" fill="none" stroke="#111" stroke-width="4"/>
<line x1="2130" y1="2586" x2="2318" y2="2586" stroke="#111" stroke-width="4"/>
<text x="2321" y="2498" text-anchor="middle" font-size="46">****</text>
</g>
<g class="san">
<text x="556" y="3962" font-size="66" font-family="Liberation Serif, serif">H</text>
<text transform="translate(700,4283) rotate(-90)" text-anchor="middle" font-size="52" font-weight="bold" textLength="880" lengthAdjust="spacingAndGlyphs">Percentage of FRET change (%)</text>
<path d="M878,4172 V4150 H983 V4172" fill="none" stroke="#111" stroke-width="3"/>
<text x="931" y="4143" text-anchor="middle" font-size="42">****</text>
<path d="M1089,4091 V4069 H1198 V4091" fill="none" stroke="#111" stroke-width="3"/>
<text x="1143" y="4055" text-anchor="middle" font-size="50">ns</text>
<path d="M1308,4005 V3994 H1409 V4005" fill="none" stroke="#111" stroke-width="3"/>
<text x="1358" y="3985" text-anchor="middle" font-size="42">****</text>
<path d="M1521,3984 V3962 H1627 V3984" fill="none" stroke="#111" stroke-width="3"/>
<text x="1574" y="3955" text-anchor="middle" font-size="42">****</text>
<path d="M1733,4059 V4037 H1843 V4059" fill="none" stroke="#111" stroke-width="3"/>
<text x="1788" y="4028" text-anchor="middle" font-size="42">****</text>
<path d="M1310,3921 V3905 H1961 V3921" fill="none" stroke="#111" stroke-width="3"/>
<text x="1610" y="3883" text-anchor="middle" font-size="50">ns</text>
</g>
</svg>
</body></html>
